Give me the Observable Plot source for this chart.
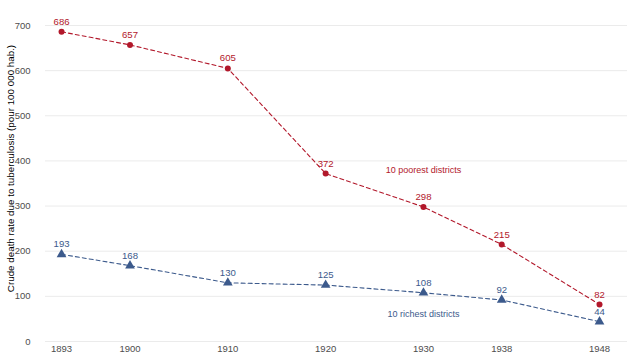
<!DOCTYPE html>
<html>
<head>
<meta charset="utf-8">
<script src="https://cdn.jsdelivr.net/npm/d3@7"></script>
<script src="https://cdn.jsdelivr.net/npm/@observablehq/plot@0.6"></script>
<style>
  html, body { margin: 0; padding: 0; background: #fff; }
  #chart svg { display: block; }
</style>
</head>
<body>
<div id="chart"></div>
<script>
const years = [1893, 1900, 1910, 1920, 1930, 1938, 1948];
const poorest = [686, 657, 605, 372, 298, 215, 82];
const richest = [193, 168, 130, 125, 108, 92, 44];
const yTicks = [0, 100, 200, 300, 400, 500, 600, 700];
const seriesNames = ["10 poorest districts", "10 richest districts"];
const yTitle = "Crude death rate due to tuberculosis (pour 100 000 hab.)";

const red = "#b2182b";
const blue = "#3c5a8c";

const poorData = years.map((yr, i) => ({year: yr, value: poorest[i]}));
const richData = years.map((yr, i) => ({year: yr, value: richest[i]}));
const annot = [
  {year: 1930, value: 380, label: seriesNames[0], color: red},
  {year: 1930, value: 60, label: seriesNames[1], color: blue}
];

const chart = Plot.plot({
  width: 630,
  height: 360,
  marginLeft: 45,
  marginRight: 3,
  marginTop: 25,
  marginBottom: 19,
  style: {fontFamily: "'Liberation Sans', Arial, sans-serif", fontSize: "9px", color: "#4d4d4d", background: "#fff"},
  x: {domain: [1891.36, 1950.86]},
  y: {domain: [0, 700]},
  marks: [
    Plot.ruleY(yTicks, {stroke: "#ebebeb", strokeWidth: 1}),
    Plot.axisY({ticks: yTicks, tickSize: 0, tickPadding: 15, label: null, fill: "#4d4d4d", fontSize: 9.5}),
    Plot.axisX({ticks: years, tickSize: 0, tickPadding: 4, tickFormat: d => String(d), label: null, fill: "#4d4d4d", fontSize: 9.5}),
    Plot.text([yTitle], {frameAnchor: "left", textAnchor: "middle", dx: -35, dy: -15, rotate: -90, fill: "#000", fontSize: 9.8, text: d => d}),
    Plot.line(poorData, {x: "year", y: "value", stroke: red, strokeWidth: 1.1, strokeDasharray: "4,3"}),
    Plot.line(richData, {x: "year", y: "value", stroke: blue, strokeWidth: 1.1, strokeDasharray: "4,3"}),
    Plot.dot(poorData, {x: "year", y: "value", fill: red, r: 3, symbol: "circle"}),
    Plot.dot(richData, {x: "year", y: "value", fill: blue, r: 3.6, symbol: "triangle"}),
    Plot.text(poorData, {x: "year", y: "value", text: d => String(d.value), dy: -10, fill: red, fontSize: 9.6}),
    Plot.text(richData, {x: "year", y: "value", text: d => String(d.value), dy: -10, fill: blue, fontSize: 9.6}),
    Plot.text(annot, {x: "year", y: "value", text: "label", fill: "color", fontSize: 9})
  ]
});
document.getElementById("chart").appendChild(chart);
</script>
</body>
</html>
